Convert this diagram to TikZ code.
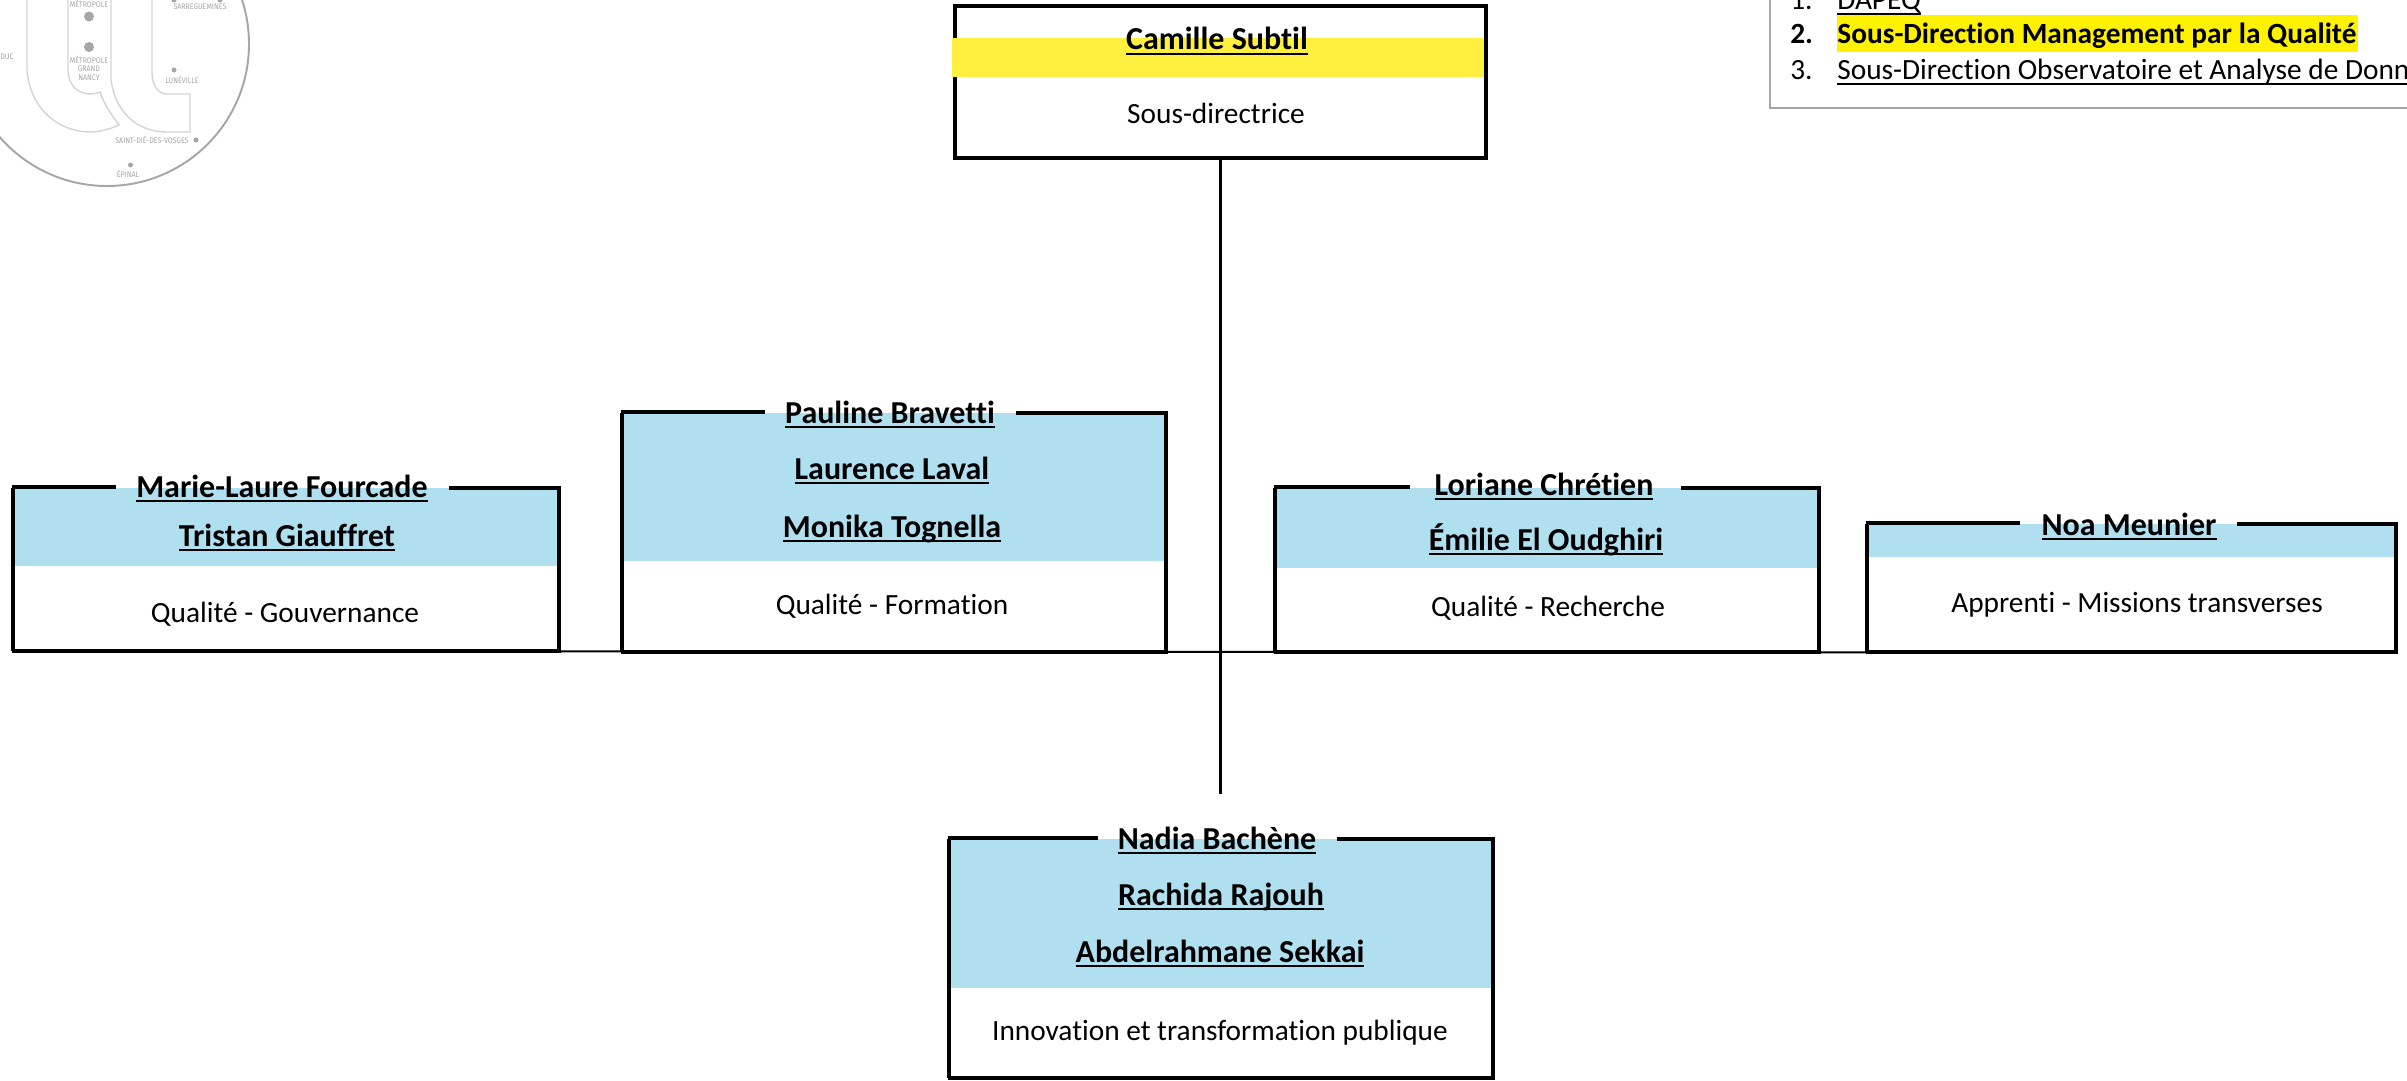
\documentclass[tikz,border=0pt]{standalone}
\usepackage{fontspec}
\setmainfont[Ligatures=NoCommon]{Carlito}
\newfontfamily\logofont[FakeStretch=0.87]{Fira Sans}
\usetikzlibrary{fit}
\definecolor{cardblue}{HTML}{B0DFF0}
\definecolor{bandyellow}{HTML}{FFEF3F}
\definecolor{logogray}{HTML}{A6A6A6}
\definecolor{logoline}{HTML}{D4D4D4}
\newcommand\ulname[1]{\setbox0=\hbox{#1}\rlap{\vrule width\wd0 height -1.9pt depth 3.1pt}\box0}
\newcommand\cardbox[8]{%
  \fill[cardblue] (#2,#4) rectangle (#3,#5);
  \coordinate (#1-nw) at (#2,#4);
  \coordinate (#1-se) at (#3,#6);
  \node[fit=(#1-nw)(#1-se),inner sep=0pt] (#1) {};
  \draw[sideline] (#2,#4) -- (#2,#6);
  \draw[sideline] (#3,#4) -- (#3,#6);
  \draw[heavyline] (#2-1.5,#6) -- (#3+1.5,#6);
  \draw[heavyline] (#2-1.5,#4-1) -- (#7,#4-1);
  \draw[heavyline] (#8,#4) -- (#3+1.5,#4);
}
\tikzset{
  sideline/.style={black,line width=1.8pt},
  heavyline/.style={black,line width=2.8pt},
  linkline/.style={black,line width=1.2pt},
  nametext/.style={anchor=base,inner sep=0pt,font=\fontsize{18.2}{20}\selectfont\bfseries},
  roletext/.style={anchor=base,inner sep=0pt,font=\fontsize{16.7}{20}\selectfont},
  listtext/.style={anchor=base west,inner sep=0pt,font=\fontsize{16.7}{20}\selectfont},
  logotext/.style={inner sep=0pt,text=logogray,font=\logofont\fontsize{4.6}{5}\selectfont},
  logodot/.style={fill=logogray,draw=none},
  logoshape/.style={draw=logoline,line width=0.8pt}
}
\begin{document}
\begin{tikzpicture}[x=0.02cm,y=-0.02cm]
\useasboundingbox (0,0) rectangle (2407,1081);
\begin{scope}
\clip (0,0) rectangle (2407,1081);
% logo
\draw[logogray,line width=1.1pt] (107,44) circle (142);
\draw[logoshape] (27,0) -- (27,70) .. controls (30,110) and (60,132) .. (90,132) .. controls (100,132) and (110,129) .. (119,125) .. controls (112,115) and (104,105) .. (100,92) .. controls (95,94) and (92,94) .. (90,94) .. controls (78,94) and (68,85) .. (68,70) -- (68,0);
\draw[logoshape] (111,0) -- (111,80) .. controls (115,110) and (135,132) .. (167,132) -- (190,132) -- (190,94) -- (167,94) .. controls (158,94) and (152,85) .. (152,73) -- (152,0);
\fill[logodot] (89,16.5) circle (5);
\fill[logodot] (89,47) circle (5);
\fill[logodot] (174,0) circle (2.5);
\fill[logodot] (220,0) circle (2.5);
\fill[logodot] (174,70) circle (2.5);
\fill[logodot] (196,140) circle (2.5);
\fill[logodot] (130.5,165) circle (2.5);
\node[logotext] (lgA) at (89,4) {MÉTROPOLE};
\node[logotext] (lgB) at (89,60) {MÉTROPOLE};
\node[logotext] (lgC) at (89,69) {GRAND};
\node[logotext] (lgD) at (89,78) {NANCY};
\node[logotext] (lgE) at (200,7) {SARREGUEMINES};
\node[logotext] (lgF) at (182,80) {LUNÉVILLE};
\node[logotext] (lgG) at (152,140) {SAINT-DIÉ-DES-VOSGES};
\node[logotext] (lgH) at (128,174) {ÉPINAL};
\node[logotext,anchor=west] (lgI) at (0,57) {DUC};
% legend box
\draw[logogray,line width=1.3pt] (2420,-10) -- (1770,-10) -- (1770,108) -- (2420,108);
\fill[yellow] (1837,15) rectangle (2358,52);
\node[listtext] (numA) at (1790,10) {1.};
\node[listtext] (itemA) at (1837,10) {\ulname{DAPEQ}};
\node[listtext,font=\fontsize{16.7}{20}\selectfont\bfseries] (numB) at (1790,44) {2.};
\node[listtext,font=\fontsize{16.7}{20}\selectfont\bfseries] (itemB) at (1837,44) {Sous-Direction Management par la Qualité};
\node[listtext] (numC) at (1790,80) {3.};
\node[listtext] (itemC) at (1837,80) {\ulname{Sous-Direction Observatoire et Analyse de Donn}};
% top card
\coordinate (camille-nw) at (955,6);
\coordinate (camille-se) at (1486,158);
\node[fit=(camille-nw)(camille-se),inner sep=0pt,draw=black,line width=2.8pt] (camille) {};
\fill[bandyellow] (952,38) rectangle (1484,77);
% cards
\cardbox{marie}{13}{559}{488}{566}{651}{116}{449}
\cardbox{pauline}{622}{1166}{413}{561}{652}{765}{1016}
\cardbox{loriane}{1275}{1819}{488}{568}{652}{1410}{1681}
\cardbox{noa}{1867}{2396}{524}{557}{652}{2020}{2237}
\cardbox{nadia}{949}{1493}{839}{988}{1078}{1098}{1337}
% connectors
\coordinate (stemend) at (camille.south |- 0,794);
\draw[linkline] (camille.south) -- (stemend);
\draw[linkline] (marie.south east) -- (noa.south west);
% texts
\node[nametext] (tCamille) at (1217,50) {\ulname{Camille Subtil}};
\node[roletext] (rCamille) at (1216,124) {Sous-directrice};
\node[nametext] (tMarie) at (282,497) {\ulname{Marie-Laure Fourcade}};
\node[nametext] (tTristan) at (287,546) {\ulname{Tristan Giauffret}};
\node[roletext] (rMarie) at (285,622) {Qualité - Gouvernance};
\node[nametext] (tPauline) at (890,423) {\ulname{Pauline Bravetti}};
\node[nametext] (tLaurence) at (892,479) {\ulname{Laurence Laval}};
\node[nametext] (tMonika) at (892,537) {\ulname{Monika Tognella}};
\node[roletext] (rPauline) at (892,614) {Qualité - Formation};
\node[nametext] (tLoriane) at (1544,495) {\ulname{Loriane Chrétien}};
\node[nametext] (tEmilie) at (1546,550) {\ulname{Émilie El Oudghiri}};
\node[roletext] (rLoriane) at (1548,616) {Qualité - Recherche};
\node[nametext] (tNoa) at (2129,535) {\ulname{Noa Meunier}};
\node[roletext] (rNoa) at (2137,612) {Apprenti - Missions transverses};
\node[nametext] (tNadia) at (1217,849) {\ulname{Nadia Bachène}};
\node[nametext] (tRachida) at (1221,905) {\ulname{Rachida Rajouh}};
\node[nametext] (tAbdel) at (1220,962) {\ulname{Abdelrahmane Sekkai}};
\node[roletext] (rNadia) at (1220,1040) {Innovation et transformation publique};
\end{scope}
\end{tikzpicture}
\end{document}
